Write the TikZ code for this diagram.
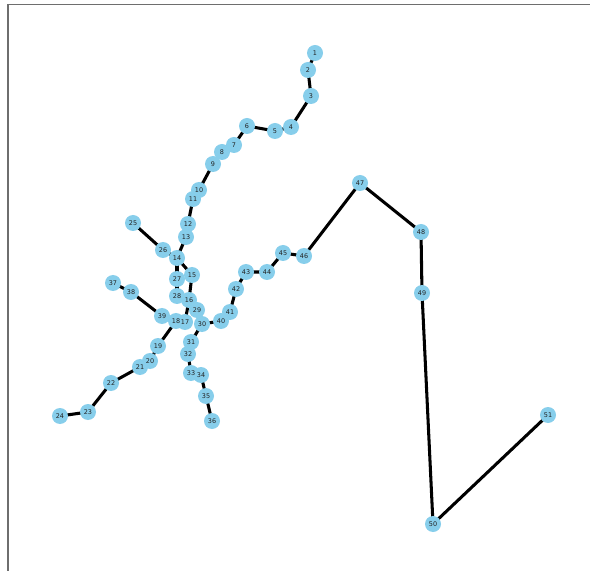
\documentclass[tikz,border=0pt]{standalone}
\usepackage{fontspec}
\setmainfont{DejaVu Sans}
\usepackage{tikz}
\definecolor{SkyBlue}{HTML}{87CEEB}
\definecolor{Ink}{HTML}{222222}
\definecolor{Spine}{HTML}{6E6E6E}
\pgfdeclarelayer{edges}
\pgfdeclarelayer{discs}
\pgfsetlayers{edges,discs,main}
\begin{document}
\begin{tikzpicture}[
  x=0.03cm,y=-0.03cm,
  vertex/.style={circle,draw=none,minimum size=0.48cm,inner sep=0pt,font=\fontsize{5.5}{6}\selectfont,text=Ink},
  disc/.style={fill=SkyBlue},
  edge/.style={line width=2.6pt,draw=black,line join=round}
]
\useasboundingbox (0,0) rectangle (590,571);
\draw[Spine,line width=0.9pt] (8,571) -- (8,4.5) -- (590,4.5);
% nodes
\node[vertex] (n1) at (315,53) {1};
\node[vertex] (n2) at (308,70) {2};
\node[vertex] (n3) at (311,96) {3};
\node[vertex] (n4) at (291,127) {4};
\node[vertex] (n5) at (275,131) {5};
\node[vertex] (n6) at (247,126) {6};
\node[vertex] (n7) at (234,145) {7};
\node[vertex] (n8) at (222,152) {8};
\node[vertex] (n9) at (213,164) {9};
\node[vertex] (n10) at (199,190) {10};
\node[vertex] (n11) at (193,199) {11};
\node[vertex] (n12) at (188,224) {12};
\node[vertex] (n13) at (186,237) {13};
\node[vertex] (n14) at (177,258) {14};
\node[vertex] (n15) at (192,275) {15};
\node[vertex] (n16) at (189,300) {16};
\node[vertex] (n17) at (185,322) {17};
\node[vertex] (n18) at (176,321) {18};
\node[vertex] (n19) at (158,346) {19};
\node[vertex] (n20) at (150,361) {20};
\node[vertex] (n21) at (140,367) {21};
\node[vertex] (n22) at (111,383) {22};
\node[vertex] (n23) at (88,412) {23};
\node[vertex] (n24) at (60,416) {24};
\node[vertex] (n25) at (133,223) {25};
\node[vertex] (n26) at (163,250) {26};
\node[vertex] (n27) at (177,279) {27};
\node[vertex] (n28) at (177,296) {28};
\node[vertex] (n29) at (197,310) {29};
\node[vertex] (n30) at (202,324) {30};
\node[vertex] (n31) at (191,342) {31};
\node[vertex] (n32) at (188,354) {32};
\node[vertex] (n33) at (191,373) {33};
\node[vertex] (n34) at (201,375) {34};
\node[vertex] (n35) at (206,396) {35};
\node[vertex] (n36) at (212,421) {36};
\node[vertex] (n37) at (113,283) {37};
\node[vertex] (n38) at (131,292) {38};
\node[vertex] (n39) at (162,316) {39};
\node[vertex] (n40) at (221,321) {40};
\node[vertex] (n41) at (230,312) {41};
\node[vertex] (n42) at (236,289) {42};
\node[vertex] (n43) at (246,272) {43};
\node[vertex] (n44) at (267,272) {44};
\node[vertex] (n45) at (283,253) {45};
\node[vertex] (n46) at (304,256) {46};
\node[vertex] (n47) at (360,183) {47};
\node[vertex] (n48) at (421,232) {48};
\node[vertex] (n49) at (422,293) {49};
\node[vertex] (n50) at (433,524) {50};
\node[vertex] (n51) at (548,415) {51};
% discs under all labels
\begin{pgfonlayer}{discs}
\foreach \i in {1,...,51}
  \fill[disc] (n\i.center) circle[radius=0.24cm];
\end{pgfonlayer}
% edges, behind the discs
\begin{pgfonlayer}{edges}
\draw[edge] (n1.center) -- (n2.center) -- (n3.center) -- (n4.center) -- (n5.center) -- (n6.center) -- (n7.center) -- (n8.center) -- (n9.center) -- (n10.center) -- (n11.center) -- (n12.center) -- (n13.center) -- (n14.center);
\draw[edge] (n25.center) -- (n26.center) -- (n14.center);
\draw[edge] (n14.center) -- (n27.center) -- (n28.center);
\draw[edge] (n14.center) -- (n15.center) -- (n16.center) -- (n17.center);
\draw[edge] (n37.center) -- (n38.center) -- (n39.center);
\draw[edge] (n18.center) -- (n19.center) -- (n20.center) -- (n21.center) -- (n22.center) -- (n23.center) -- (n24.center);
\draw[edge] (n30.center) -- (n31.center) -- (n32.center) -- (n33.center) -- (n34.center) -- (n35.center) -- (n36.center);
\draw[edge] (n30.center) -- (n40.center) -- (n41.center) -- (n42.center) -- (n43.center) -- (n44.center) -- (n45.center) -- (n46.center) -- (n47.center) -- (n48.center) -- (n49.center) -- (n50.center) -- (n51.center);
\end{pgfonlayer}
\end{tikzpicture}
\end{document}
